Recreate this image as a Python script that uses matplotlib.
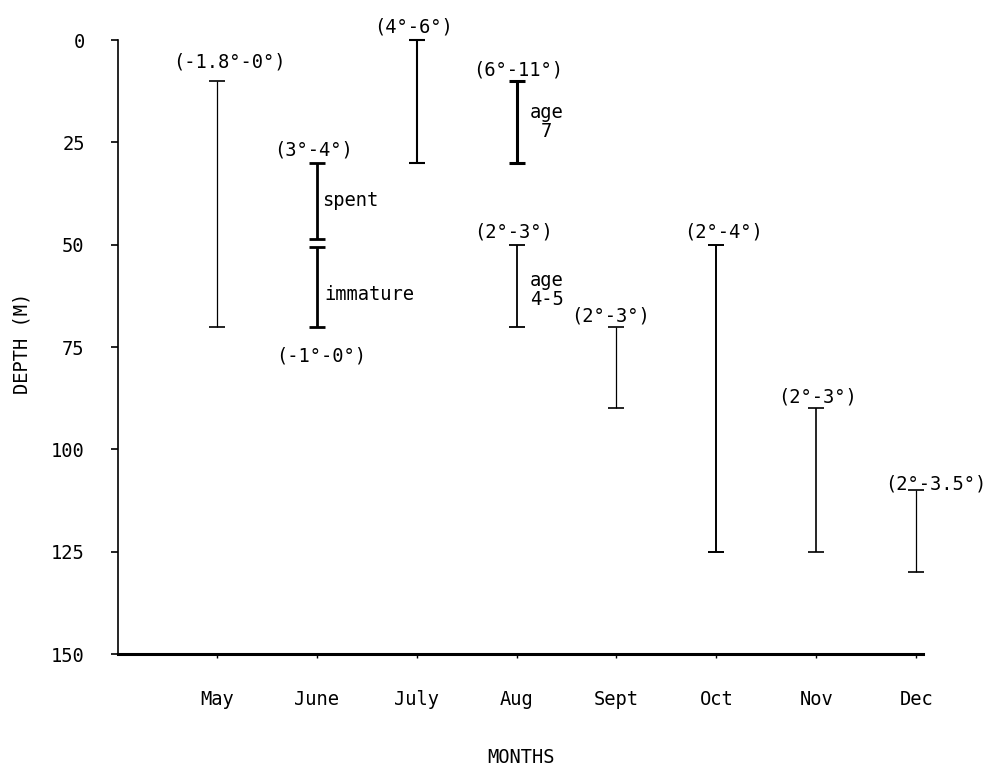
import numpy as np
import matplotlib
matplotlib.use('Agg')
import matplotlib.pyplot as plt

plt.rcParams['font.family'] = ['DejaVu Sans Mono', 'DejaVu Sans']
plt.rcParams['font.size'] = 13.5

# Datos
meses = ['May', 'June', 'July', 'Aug', 'Sept', 'Oct', 'Nov', 'Dec']
yticks = [0, 25, 50, 75, 100, 125, 150]

# cada segmento: mes (1..8), profundidad superior e inferior, temperatura, nota
seg_mes = [1, 2, 2, 3, 4, 4, 5, 6, 7, 8]
seg_sup = [10, 30, 50.5, 0, 10, 50, 70, 50, 90, 110]
seg_inf = [70, 48.5, 70, 30, 30, 70, 90, 125, 125, 130]
seg_temp = ['(-1.8°-0°)', '(3°-4°)', '(-1°-0°)', '(4°-6°)', '(6°-11°)',
            '(2°-3°)', '(2°-3°)', '(2°-4°)', '(2°-3°)', '(2°-3.5°)']
seg_nota = ['', 'spent', 'immature', '', 'age\n7', 'age\n4-5', '', '', '', '']

# estilo
grosor = [0.9, 2.0, 2.0, 1.5, 2.2, 1.3, 0.9, 1.4, 1.2, 0.9]
# desplazamiento de la etiqueta de temperatura (pixeles); abajo=True -> bajo el segmento
temp_dx = [12, -3, 4, -3, 2, -3, -6, 7, 1, 20]
temp_dy = [9, 3, -20, 4, 1, 3, 1, 3, 2, -3]
temp_abajo = [False, False, True, False, False, False, False, False, False, False]
nota_dx = [0, 5, 8, 0, 30, 30, 0, 0, 0, 0]
nota_ha = ['left', 'left', 'left', 'left', 'center', 'center', 'left', 'left', 'left', 'left']
nota_dy = [0, 0, -8, 0, 0, -4, 0, 0, 0, 0]

fig = plt.figure(figsize=(9.94, 7.74), dpi=100)
ax = fig.add_axes([0.1187, 0.155, 0.81, 0.7933])

for i in range(len(seg_mes)):
    x = seg_mes[i]
    ax.vlines(x, seg_sup[i], seg_inf[i], color='black', lw=grosor[i], clip_on=False)
    ax.plot([x, x], [seg_sup[i], seg_inf[i]], ls='none', marker='_', ms=12,
            mew=max(grosor[i], 1.2), color='black', clip_on=False)
    if temp_abajo[i]:
        ax.annotate(seg_temp[i], (x, seg_inf[i]), xytext=(temp_dx[i], temp_dy[i]),
                    textcoords='offset pixels', ha='center', va='top')
    else:
        ax.annotate(seg_temp[i], (x, seg_sup[i]), xytext=(temp_dx[i], temp_dy[i]),
                    textcoords='offset pixels', ha='center', va='bottom')
    if seg_nota[i]:
        ax.annotate(seg_nota[i], (x, (seg_sup[i] + seg_inf[i]) / 2.0),
                    xytext=(nota_dx[i], nota_dy[i]), textcoords='offset pixels',
                    ha=nota_ha[i], va='center', linespacing=1.0)

ax.set_xlim(0.01, 8.07)
ax.set_ylim(150, 0)

ax.set_yticks(yticks)
ax.set_yticklabels([str(v) for v in yticks])
ax.set_xticks(np.arange(1, len(meses) + 1))
ax.set_xticklabels(meses)

ax.spines['top'].set_visible(False)
ax.spines['right'].set_visible(False)
ax.spines['left'].set_linewidth(1.2)
ax.spines['bottom'].set_linewidth(2.2)
ax.tick_params(axis='y', direction='out', length=5, width=1.2, pad=19)
ax.tick_params(axis='x', direction='out', length=3, width=1.0, pad=23)

ax.set_xlabel('MONTHS')
ax.set_ylabel('DEPTH (M)')
ax.xaxis.set_label_coords(0.5, -0.153)
ax.yaxis.set_label_coords(-0.107, 0.506)

plt.savefig('out.png', dpi=100)
